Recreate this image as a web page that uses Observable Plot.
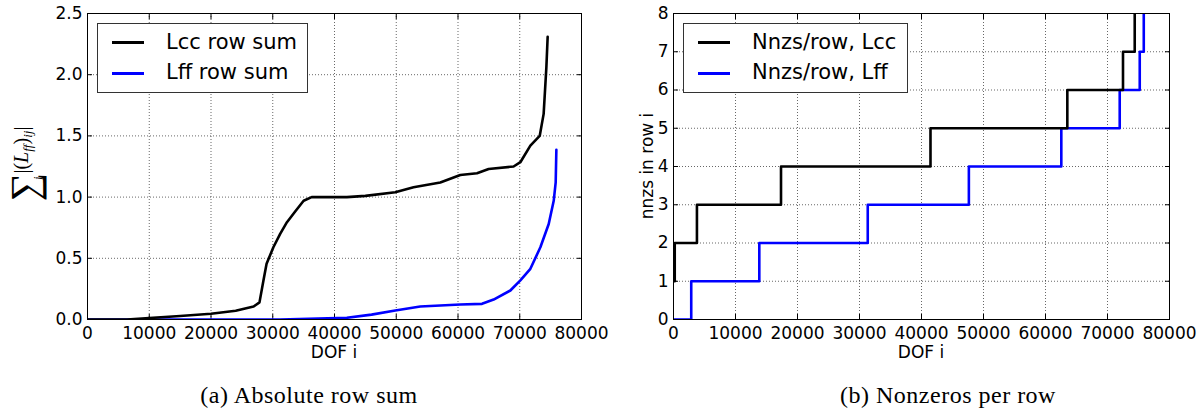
<!DOCTYPE html>
<html>
<head>
<meta charset="utf-8">
<script src="https://cdn.jsdelivr.net/npm/d3@7"></script>
<script src="https://cdn.jsdelivr.net/npm/@observablehq/plot@0.6"></script>
<style>
  html, body { margin: 0; padding: 0; background: #fff; }
  #root { position: relative; width: 1202px; height: 415px; overflow: hidden; font-family: "DejaVu Sans", sans-serif; }
  .panel { position: absolute; top: 0; }
  .panel svg { overflow: visible; }
  .panel svg text { font-family: "DejaVu Sans", sans-serif; }
  .legend { position: absolute; background: #fff; border: 1px solid #333; box-sizing: border-box; font-family: "DejaVu Sans", sans-serif; font-size: 21px; color: #000; }
  .legend .sw { position: absolute; height: 3px; }
  .legend .tx { position: absolute; white-space: nowrap; line-height: 1; }
  .lbl { position: absolute; white-space: nowrap; font-family: "DejaVu Sans", sans-serif; font-size: 17px; color: #000; line-height: 1; }
  .cap { position: absolute; white-space: nowrap; font-family: "Liberation Serif", serif; font-size: 24px; letter-spacing: 0.5px; color: #000; line-height: 1; }
  .rot { position: absolute; white-space: nowrap; transform-origin: center center; transform: translate(-50%, -50%) rotate(-90deg); line-height: 1; }
</style>
</head>
<body>
<div id="root"></div>
<script>
// ---- Data: panel (a) absolute row sums ----
const lccX = [0, 6400, 10000, 15000, 20000, 24000, 26900, 27850, 28500, 29000, 30100, 31200, 32300, 33600, 35000, 36300, 42000, 45000, 49840, 52800, 57130, 60370, 63080, 64960, 69000, 70100, 71720, 73230, 73870, 74310, 74520];
const lccY = [0, 0, 0.012, 0.028, 0.047, 0.072, 0.106, 0.14, 0.32, 0.455, 0.59, 0.70, 0.795, 0.88, 0.97, 1.0, 1.0, 1.01, 1.04, 1.08, 1.12, 1.18, 1.195, 1.23, 1.25, 1.285, 1.42, 1.50, 1.68, 2.06, 2.31];
const lffX = [0, 31200, 42000, 46000, 49840, 53890, 60370, 63890, 65770, 68480, 70100, 71720, 73340, 74690, 75500, 75820, 75930];
const lffY = [0, 0, 0.014, 0.04, 0.074, 0.106, 0.123, 0.128, 0.163, 0.237, 0.319, 0.414, 0.59, 0.78, 0.97, 1.12, 1.387];

// ---- Data: panel (b) nonzeros per row (step points) ----
const nnzLccX = [0, 200, 3780, 17340, 41450, 63520, 72500, 74390];
const nnzLccY = [1, 2, 3, 4, 5, 6, 7, 10];
const nnzLffX = [0, 2860, 13840, 31330, 47640, 62550, 71970, 75200, 75850];
const nnzLffY = [0, 1, 2, 3, 4, 5, 6, 7, 10];

// ---- Ticks / labels ----
const xTicks = [0, 10000, 20000, 30000, 40000, 50000, 60000, 70000, 80000];
const yTicksA = [0, 0.5, 1.0, 1.5, 2.0, 2.5];
const yTicksB = [0, 1, 2, 3, 4, 5, 6, 7, 8];
const legendA = ["Lcc row sum", "Lff row sum"];
const legendB = ["Nnzs/row, Lcc", "Nnzs/row, Lff"];
const colors = ["#000000", "#0000ff"];
const xLabel = "DOF i";
const yLabelB = "nnzs in row i";
const captions = ["(a) Absolute row sum", "(b) Nonzeros per row"];

const toRows = (xs, ys) => xs.map((x, i) => ({x, y: ys[i]}));

const root = document.getElementById("root");
const W = 601, H = 370;
const fontStyle = {fontFamily: "DejaVu Sans, sans-serif", fontSize: "17px", background: "transparent", color: "black", overflow: "visible"};

function axesMarks(yTicks, yFmt) {
  return [
    Plot.gridX(xTicks, {stroke: "black", strokeOpacity: 0.75, strokeDasharray: "1,2", strokeWidth: 0.8}),
    Plot.gridY(yTicks, {stroke: "black", strokeOpacity: 0.75, strokeDasharray: "1,2", strokeWidth: 0.8}),
    Plot.axisX(xTicks, {anchor: "bottom", tickSize: -5, tickPadding: 12, tickFormat: d => String(d), label: null, fontSize: 17, fontFamily: "DejaVu Sans"}),
    Plot.axisX(xTicks, {anchor: "top", tickSize: -5, tickFormat: () => "", label: null}),
    Plot.axisY(yTicks, {anchor: "left", tickSize: -5, tickPadding: 10, tickFormat: yFmt, label: null, fontSize: 17, fontFamily: "DejaVu Sans"}),
    Plot.axisY(yTicks, {anchor: "right", tickSize: -5, tickFormat: () => "", label: null}),
  ];
}

// Panel (a)
const plotA = Plot.plot({
  width: W, height: H,
  marginLeft: 87, marginRight: 20, marginTop: 13, marginBottom: 51,
  style: fontStyle,
  x: {domain: [0, 80000]},
  y: {domain: [0, 2.5]},
  marks: [
    ...axesMarks(yTicksA, d => d.toFixed(1)),
    Plot.line(toRows(lffX, lffY), {x: "x", y: "y", stroke: colors[1], strokeWidth: 2.6, curve: "linear", clip: true}),
    Plot.line(toRows(lccX, lccY), {x: "x", y: "y", stroke: colors[0], strokeWidth: 2.6, curve: "linear", clip: true}),
    Plot.frame({stroke: "black", strokeWidth: 1})
  ]
});

// Panel (b)
const plotB = Plot.plot({
  width: W, height: H,
  marginLeft: 72, marginRight: 33, marginTop: 13, marginBottom: 51,
  style: fontStyle,
  x: {domain: [0, 80000]},
  y: {domain: [0, 8]},
  marks: [
    ...axesMarks(yTicksB, d => String(d)),
    Plot.line(toRows(nnzLffX, nnzLffY), {x: "x", y: "y", stroke: colors[1], strokeWidth: 2.6, curve: "step-after", clip: true}),
    Plot.line(toRows(nnzLccX, nnzLccY), {x: "x", y: "y", stroke: colors[0], strokeWidth: 2.6, curve: "step-after", clip: true}),
    Plot.frame({stroke: "black", strokeWidth: 1})
  ]
});

function place(el, left) {
  const wrap = document.createElement("div");
  wrap.className = "panel";
  wrap.style.left = left + "px";
  wrap.appendChild(el);
  root.appendChild(wrap);
}
place(plotA, 0);
place(plotB, 601);

function addLegend(left, top, width, height, labels) {
  const box = document.createElement("div");
  box.className = "legend";
  Object.assign(box.style, {left: left + "px", top: top + "px", width: width + "px", height: height + "px"});
  labels.forEach((t, i) => {
    const cy = 18.5 + i * 30.6;
    const sw = document.createElement("div");
    sw.className = "sw";
    Object.assign(sw.style, {left: "14px", width: "32px", top: (cy - 1.5) + "px", background: colors[i]});
    box.appendChild(sw);
    const tx = document.createElement("div");
    tx.className = "tx";
    tx.textContent = t;
    Object.assign(tx.style, {left: "68px", top: (cy - 11) + "px"});
    box.appendChild(tx);
  });
  root.appendChild(box);
}
addLegend(97, 23, 211, 70, legendA);
addLegend(683, 23, 225, 70, legendB);

function addText(cls, text, cx, cy) {
  const d = document.createElement("div");
  d.className = cls;
  d.textContent = text;
  root.appendChild(d);
  const r = d.getBoundingClientRect();
  d.style.left = (cx - r.width / 2) + "px";
  d.style.top = (cy - r.height / 2) + "px";
  return d;
}
addText("lbl", xLabel, 334, 352);
addText("lbl", xLabel, 921, 352);
addText("cap", captions[0], 309, 395);
addText("cap", captions[1], 948, 395);

// rotated y labels
const yb = document.createElement("div");
yb.className = "rot";
yb.style.fontFamily = "DejaVu Sans, sans-serif";
yb.style.fontSize = "17px";
yb.textContent = yLabelB;
yb.style.left = "647px"; yb.style.top = "166px";
root.appendChild(yb);

const ya = document.createElement("div");
ya.className = "rot";
ya.style.fontFamily = "Liberation Serif, serif";
ya.style.fontSize = "20px";
ya.innerHTML = '<span style="font-size:40px;vertical-align:-10px">\u2211</span><sub style="font-size:12px;font-style:italic;vertical-align:-14px;margin-left:-7px;margin-right:3px">j</sub><span>|(</span><i>L</i><sub style="font-size:13px;vertical-align:-4px"><i>ff</i></sub><span>)</span><sub style="font-size:13px;vertical-align:-4px"><i>ij</i></sub><span>|</span>';
ya.style.left = "25px"; ya.style.top = "164px";
root.appendChild(ya);
</script>
</body>
</html>
